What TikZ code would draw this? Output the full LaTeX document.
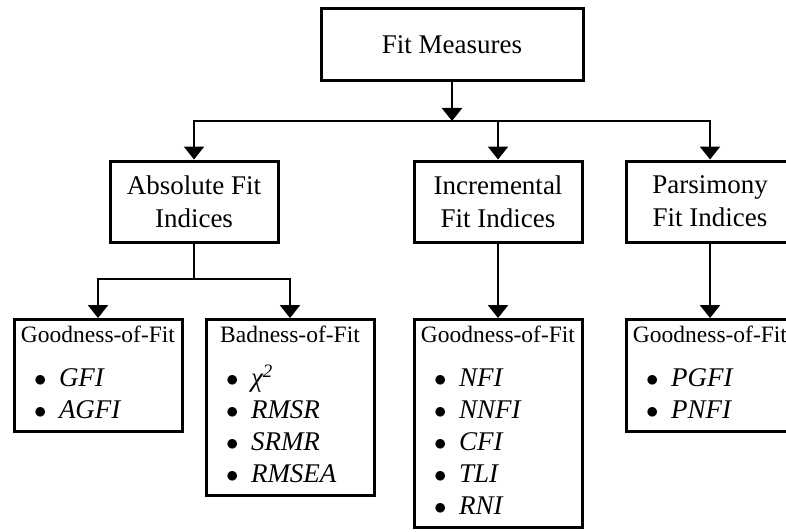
\documentclass[tikz,border=0pt]{standalone}
\usepackage{fontspec}
\setmainfont{Liberation Serif}
\usepackage{tikz}
\usetikzlibrary{arrows.meta,positioning}

\newcommand{\leafhead}[1]{\makebox[\hsize]{\fontsize{23.5}{32}\selectfont #1}}
\newcommand{\leafitem}[1]{\hspace*{12pt}\makebox[25pt][l]{$\bullet$}\textit{#1}}
\newcommand{\leafend}{\rule[-7pt]{0pt}{7pt}}

\begin{document}
\begin{tikzpicture}[x=1pt, y=-1pt, every node/.style={font=\fontsize{27}{33}\selectfont}, mainbox/.style={draw, line width=3pt, align=center, minimum width=168pt, minimum height=81pt, inner sep=0pt}, leafbox/.style={draw, line width=3pt, anchor=north, align=left, text width=152pt, inner xsep=8pt, inner ysep=6pt, font=\fontsize{27}{32}\selectfont}, arr/.style={-{Triangle[width=20pt,length=13pt]}, line width=2.6pt}]
\useasboundingbox (0,0) rectangle (786,532);
\clip (0,0) rectangle (786,532);
\node[mainbox, minimum width=262pt, minimum height=72pt] (fit) at (452,45) {Fit Measures};
\node[mainbox] (absfit) at (194,201.5) {Absolute Fit\\Indices};
\node[mainbox] (incfit) at (498,201.5) {Incremental\\Fit Indices};
\node[mainbox] (parfit) at (710,201.5) {Parsimony\\Fit Indices};
\node[leafbox] (absgood) at (98,318) {\leafhead{Goodness-of-Fit}\\[12pt]\leafitem{GFI}\\\leafitem{AGFI}\leafend};
\node[leafbox] (absbad) at (290,318) {\leafhead{Badness-of-Fit}\\[12pt]\leafitem{χ\textsuperscript{2}}\\\leafitem{RMSR}\\\leafitem{SRMR}\\\leafitem{RMSEA}\leafend};
\node[leafbox] (incgood) at (498,318) {\leafhead{Goodness-of-Fit}\\[12pt]\leafitem{NFI}\\\leafitem{NNFI}\\\leafitem{CFI}\\\leafitem{TLI}\\\leafitem{RNI}\leafend};
\node[leafbox] (pargood) at (710,318) {\leafhead{Goodness-of-Fit}\\[12pt]\leafitem{PGFI}\\\leafitem{PNFI}\leafend};
% branch points
\coordinate (bus) at (452,121);
\coordinate (abssplit) at (194,279);
\draw[arr] (fit) -- (bus);
\draw[arr] (bus) -| (absfit);
\draw[arr] (bus) -| (incfit);
\draw[arr] (bus) -| (parfit);
\draw[line width=2.6pt] (absfit) -- (abssplit);
\draw[arr] (abssplit) -| (absgood);
\draw[arr] (abssplit) -| (absbad);
\draw[arr] (incfit) -- (incgood);
\draw[arr] (parfit) -- (pargood);
\end{tikzpicture}
\end{document}
